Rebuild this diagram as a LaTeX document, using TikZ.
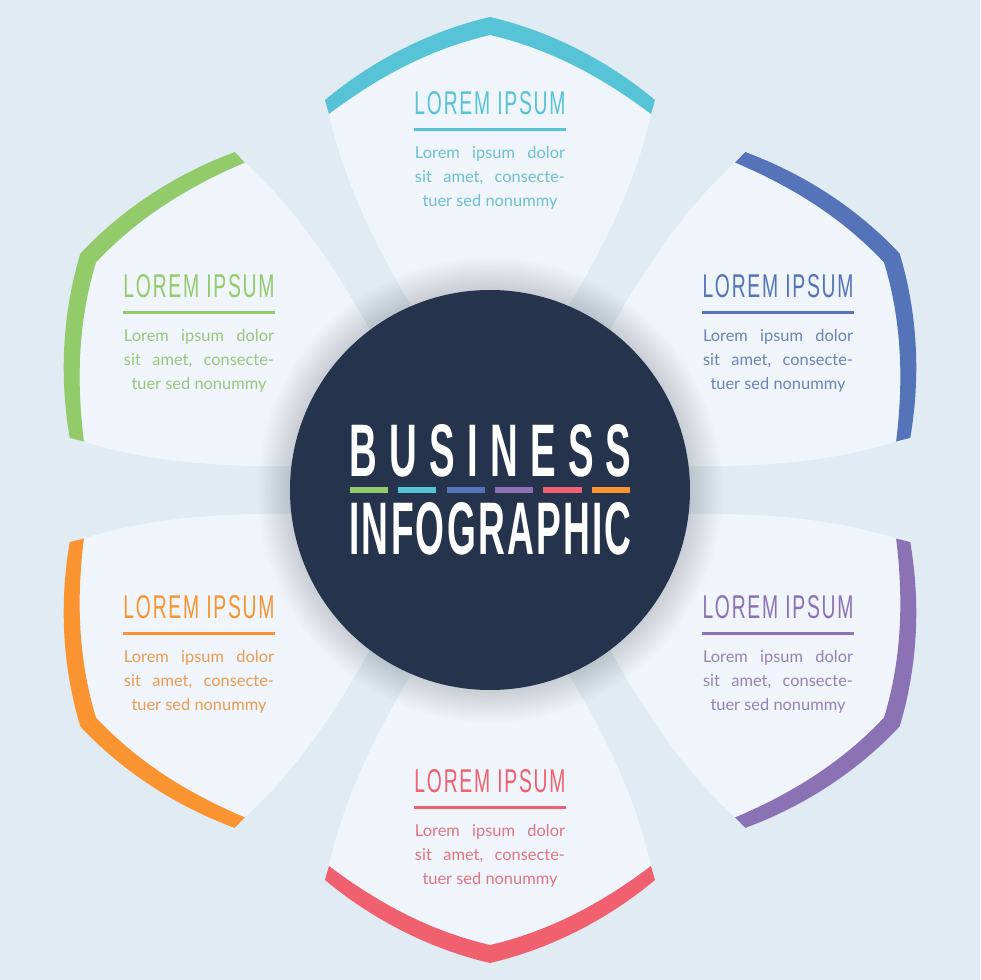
\documentclass[tikz,border=0pt]{standalone}
\usepackage{fontspec}
\usetikzlibrary{positioning}
\setmainfont{Lato}
\newfontfamily\headfont[LetterSpace=9]{Liberation Sans}
\newfontfamily\bigfont[LetterSpace=32]{Liberation Sans}
\newfontfamily\widefont[LetterSpace=6]{Liberation Sans}
\definecolor{pagebg}{HTML}{E1EBF4}
\definecolor{petalbg}{HTML}{F0F5FC}
\definecolor{navy}{HTML}{25344C}
\definecolor{cteal}{HTML}{56C3D6}
\definecolor{cblue}{HTML}{5473B8}
\definecolor{cpurple}{HTML}{8B72B5}
\definecolor{cred}{HTML}{F0606E}
\definecolor{corange}{HTML}{F99431}
\definecolor{cgreen}{HTML}{93CA6A}
\tikzset{every node/.style={inner sep=0pt, outer sep=0pt},
  petaltitle/.style={text=#1},
  petalrule/.style={fill=#1, minimum width=152pt, minimum height=3.6pt},
  petalbody/.style={text=#1!85!gray!90!white, align=center, font=\fontsize{16.4}{24.3}\selectfont},
  dashbar/.style={fill=#1, minimum width=38pt, minimum height=6pt}}
\newcommand{\bodyline}[1]{\makebox[150pt][s]{#1}}
\begin{document}
\begin{tikzpicture}[x=1pt,y=1pt]
  \useasboundingbox (-490,-490) rectangle (490,490);
  \fill[pagebg] (-490,-490) rectangle (490,490);
  \foreach \a/\c in {0/cteal,-60/cblue,-120/cpurple,180/cred,120/corange,60/cgreen} {
   \begin{scope}[rotate=\a]
    \fill[petalbg] (0,455) .. controls (60,441) and (112,413) .. (161,376)
      .. controls (148,315) and (118,250) .. (79,185) -- (0,100) -- (-79,185)
      .. controls (-118,250) and (-148,315) .. (-161,376)
      .. controls (-112,413) and (-60,441) .. (0,455) -- cycle;
    \fill[\c] (0,473) .. controls (60,459) and (117,430) .. (165,390) -- (161,376)
      .. controls (112,413) and (60,441) .. (0,455)
      .. controls (-60,441) and (-112,413) .. (-161,376) -- (-165,390)
      .. controls (-117,430) and (-60,459) .. (0,473) -- cycle;
   \end{scope}
  }
  \foreach \t in {0,1,...,39}
    \fill[navy,opacity=0.005] (0,0) circle ({200+34*\t/40});
  \node[circle,fill=navy,minimum size=400pt] (hub) at (0,0) {};
  \node[text=white] (business) at (0.5,39.5) {\resizebox{282pt}{52pt}{\bigfont\bfseries BUSINESS}};
  \node[text=white] (infographic) at (0.5,-39) {\resizebox{282pt}{52pt}{\widefont\bfseries INFOGRAPHIC}};
  \foreach \n/\x/\c in {1/-120.5/cgreen,2/-72.5/cteal,3/-24/cblue,4/24/cpurple,5/72.5/cred,6/121/corange}
    \node[dashbar=\c] (dash\n) at (\x,0) {};
  \foreach \n/\x/\y/\c in {1/0/387/cteal,2/288/204/cblue,3/288/-117/cpurple,4/0/-291/cred,5/-291/-117/corange,6/-291/204/cgreen} {
    \node[petaltitle=\c] (title\n) at (\x,\y) {\resizebox{151pt}{23pt}{\headfont LOREM IPSUM}};
    \node[petalrule=\c,below=13pt of title\n] (rule\n) {};
    \node[petalbody=\c,below=15pt of rule\n] (body\n) {\bodyline{Lorem\hfill ipsum\hfill dolor}\\ \bodyline{sit\hfill amet,\hfill consecte-}\\ tuer sed nonummy};
  }
\end{tikzpicture}
\end{document}
